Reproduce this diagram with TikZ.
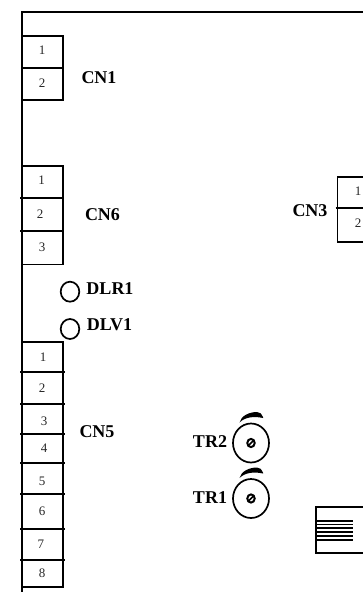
\documentclass[tikz,border=0pt]{standalone}
\usepackage{fontspec}
\setmainfont{Liberation Serif}
\tikzset{
  line/.style={line width=1.7pt,black},
  num/.style={inner sep=0pt,font=\fontsize{13}{14}\selectfont,text=black!85},
  lab/.style={inner sep=0pt,font=\fontsize{18}{19}\selectfont\bfseries},
  trim/.pic={
    \draw[line] (0,0) ellipse [x radius=18,y radius=19.5];
    \draw[line width=2pt] (0,0) ellipse [x radius=3.7,y radius=4.1];
    \draw[line width=1.6pt] (-3.2,3.2) -- (3.2,-3.2);
    \fill (-11.5,-20.5) .. controls (-10,-27) and (-2,-31) .. (6,-31)
      .. controls (9,-31) and (11,-29) .. (12,-26) -- (12,-25)
      .. controls (3,-27) and (-6,-26) .. (-11.5,-20.5) -- cycle;
  }
}
\begin{document}
\begin{tikzpicture}[x=1pt,y=-1pt]
\useasboundingbox (0,0) rectangle (363,592);
% frame
\draw[line] (363,12) -- (22,12) -- (22,592);
% CN1
\draw[line] (22,36) rectangle (63,100);
\draw[line] (22,68) -- (63,68);
% CN6
\draw[line] (22,166) rectangle (63,264.5);
\draw[line] (20,198) -- (63,198);
\draw[line] (20,231) -- (63,231);
% CN5
\draw[line] (22,342) -- (63,342) -- (63,587) -- (22,587);
\foreach \y in {372,404,434,463,494,529,560} \draw[line] (20,\y) -- (64.5,\y);
% CN3
\draw[line] (363,177) -- (337.5,177) -- (337.5,242) -- (363,242);
\draw[line] (335.5,208) -- (363,208);
% vent
\draw[line] (363,507) -- (316,507) -- (316,553) -- (363,553);
\foreach \y in {520.7,524.4,528.1,531.8,535.7,539.7} \draw[line width=1.6pt] (315,\y) -- (353,\y);
% LEDs
\draw[line] (70,291.7) ellipse [x radius=9.3,y radius=10];
\draw[line] (70,329) ellipse [x radius=9.3,y radius=10];
% trimmers
\pic at (251,443) {trim};
\pic at (251,498.5) {trim};
% numbers
\node[num] (a1) at (42,50) {1};
\node[num] (a2) at (42,83) {2};
\node[num] (b1) at (41.5,180) {1};
\node[num] (b2) at (40,214.5) {2};
\node[num] (b3) at (42,247) {3};
\node[num] (c1) at (43,357) {1};
\node[num] (c2) at (42,388) {2};
\node[num] (c3) at (44,421.5) {3};
\node[num] (c4) at (44,448) {4};
\node[num] (c5) at (42,481.5) {5};
\node[num] (c6) at (42,511) {6};
\node[num] (c7) at (41,544) {7};
\node[num] (c8) at (42,573.5) {8};
\node[num] (d1) at (358,191) {1};
\node[num] (d2) at (358,223) {2};
% labels
\node[lab] (cn1) at (99,77.5) {CN1};
\node[lab] (cn6) at (102.5,214.5) {CN6};
\node[lab] (cn5) at (97,431.5) {CN5};
\node[lab] (cn3) at (310,210.5) {CN3};
\node[lab] (dlr) at (110,288.5) {DLR1};
\node[lab] (dlv) at (109.5,324.5) {DLV1};
\node[lab] (tr2) at (210,441.5) {TR2};
\node[lab] (tr1) at (210,497.5) {TR1};
\end{tikzpicture}
\end{document}
